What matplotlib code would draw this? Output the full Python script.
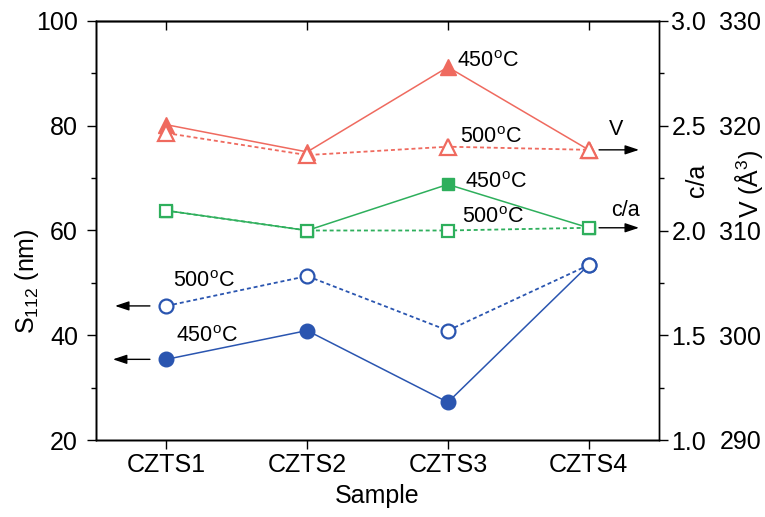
import matplotlib
matplotlib.use("Agg")
import matplotlib.pyplot as plt
from matplotlib.ticker import MultipleLocator

plt.rcParams['font.family'] = ['Liberation Sans', 'DejaVu Sans']
plt.rcParams['mathtext.fontset'] = 'custom'
plt.rcParams['mathtext.rm'] = 'Liberation Sans'
plt.rcParams['mathtext.it'] = 'Liberation Sans:italic'
plt.rcParams['mathtext.bf'] = 'Liberation Sans:bold'

samples = ["CZTS1", "CZTS2", "CZTS3", "CZTS4"]
s112_450 = [35.4, 40.9, 27.2, 53.4]
s112_500 = [45.6, 51.3, 40.9, 53.4]
ca_450 = [2.095, 2.00, 2.22, 2.013]
ca_500 = [2.095, 2.00, 2.00, 2.013]
v_450 = [320.1, 317.5, 325.6, 317.7]
v_500 = [319.3, 317.2, 318.0, 317.7]

RED = '#EF6A5F'
GREEN = '#2EAF5C'
BLUE = '#2A55B0'
FS = 18
dash = (0, (2.2, 1.6))

fig = plt.figure(figsize=(7.65, 5.17), dpi=100)
ax = fig.add_axes([96/765, 1-440/517, (659-96)/765, (440-21)/517])
ax2 = ax.twinx()
ax3 = ax.twinx()

x = list(range(1, len(samples)+1))

# S112 (left axis)
ax.plot(x, s112_450, '-', color=BLUE, lw=1.1, marker='o', ms=10.5, mfc=BLUE, mec=BLUE, zorder=3)
ax.plot(x, s112_500, linestyle=dash, color=BLUE, lw=1.3, marker='o', ms=10, mfc='white', mec=BLUE, mew=1.6, zorder=3)
# c/a
ax2.plot(x, ca_450, '-', color=GREEN, lw=1.1, marker='s', ms=9, mfc=GREEN, mec=GREEN, zorder=3)
ax2.plot(x, ca_500, linestyle=dash, color=GREEN, lw=1.3, marker='s', ms=9, mfc='white', mec=GREEN, mew=1.6, zorder=3)
# V
ax3.plot(x, v_450, '-', color=RED, lw=1.1, marker='^', ms=12, mfc=RED, mec=RED, zorder=3)
ax3.plot(x, v_500, linestyle=dash, color=RED, lw=1.3, marker='^', ms=12, mfc='white', mec=RED, mew=1.6, zorder=3)

ax.set_xlim(0.5, 4.5)
ax.set_ylim(20, 100)
ax2.set_ylim(1.0, 3.0)
ax3.set_ylim(290, 330)

ax.set_xticks(x)
ax.set_xticklabels(samples, fontsize=FS)
ax.set_yticks([20, 40, 60, 80, 100])
ax.yaxis.set_minor_locator(MultipleLocator(10))
ax.tick_params(axis='x', which='major', direction='out', length=6.5, width=1, labelsize=FS, pad=3)
ax.tick_params(axis='y', which='major', direction='out', length=6.5, width=1, labelsize=FS, pad=6.5)
ax.tick_params(axis='y', which='minor', direction='out', length=3.5, width=1)
ax.tick_params(axis='x', which='minor', bottom=False)

top = ax.secondary_xaxis('top')
top.set_xticks(x)
top.set_xticklabels([])
top.tick_params(direction='in', length=6.5, width=1)
top.spines['top'].set_linewidth(1)

ax2.set_yticks([1.0, 1.5, 2.0, 2.5, 3.0])
ax2.set_yticklabels(['1.0', '1.5', '2.0', '2.5', '3.0'])
ax2.yaxis.set_minor_locator(MultipleLocator(0.25))
ax2.tick_params(axis='y', which='major', direction='out', length=6.5, width=1, labelsize=FS, pad=2.5)
ax2.tick_params(axis='y', which='minor', direction='out', length=3.5, width=1)

ax3.set_yticks([290, 300, 310, 320, 330])
ax3.tick_params(axis='y', which='major', length=0, labelsize=FS, pad=43.5)
ax3.spines['right'].set_visible(False)

for a in (ax, ax2, ax3):
    for s in a.spines.values():
        s.set_linewidth(1)

ax.set_xlabel('Sample', fontsize=FS, labelpad=5)
ax.set_ylabel('S$_{112}$ (nm)', fontsize=FS)
ax.yaxis.set_label_coords(-0.098, 0.38)
ax2.set_ylabel('c/a', fontsize=FS)
ax2.yaxis.set_label_coords(1.046, 0.62)
ax3.set_ylabel('V (Å$^3$)', fontsize=FS)
ax3.yaxis.set_label_coords(1.131, 0.61)

deg = '$^\\mathrm{o}$C'
tfs = 15.5
ax.text(3.067, 92.2, '450' + deg, fontsize=tfs, ha='left', va='center')
ax.text(3.089, 77.85, '500' + deg, fontsize=tfs, ha='left', va='center')
ax.text(3.124, 69.26, '450' + deg, fontsize=tfs, ha='left', va='center')
ax.text(3.103, 62.4, '500' + deg, fontsize=tfs, ha='left', va='center')
ax.text(1.046, 50.2, '500' + deg, fontsize=tfs, ha='left', va='center')
ax.text(1.067, 39.7, '450' + deg, fontsize=tfs, ha='left', va='center')
ax.text(4.195, 79.2, 'V', fontsize=tfs, ha='center', va='center')
ax.text(4.26, 63.9, 'c/a', fontsize=tfs, ha='center', va='center')

arrow = dict(arrowstyle='-|>,head_length=0.6,head_width=0.2', color='black', lw=1.0, mutation_scale=14, shrinkA=0, shrinkB=0)
ax.annotate('', xy=(0.635, s112_500[0]), xytext=(0.883, s112_500[0]), arrowprops=arrow, annotation_clip=False)
ax.annotate('', xy=(0.62, s112_450[0]), xytext=(0.883, s112_450[0]), arrowprops=arrow, annotation_clip=False)
ax3.annotate('', xy=(4.358, v_500[3]), xytext=(4.074, v_500[3]), arrowprops=arrow, annotation_clip=False)
ax2.annotate('', xy=(4.358, ca_500[3]), xytext=(4.074, ca_500[3]), arrowprops=arrow, annotation_clip=False)

fig.savefig('out.png', dpi=100)
